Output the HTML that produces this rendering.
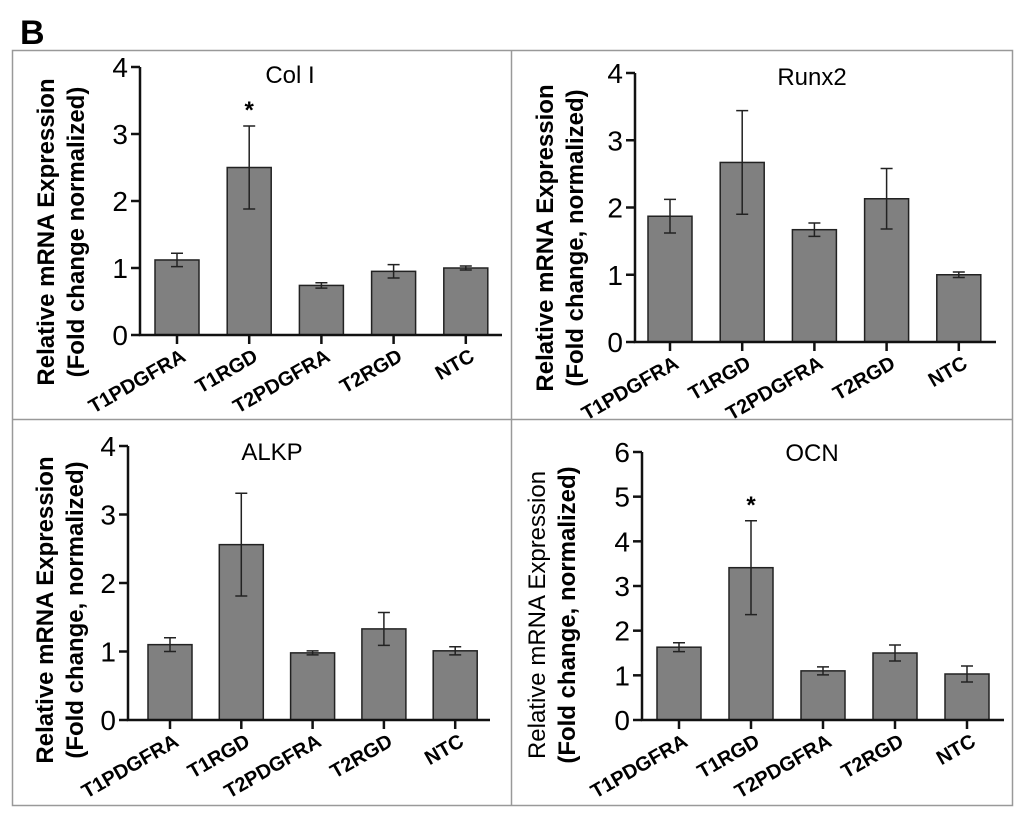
<!DOCTYPE html>
<html><head><meta charset="utf-8"><style>
body{margin:0;background:#fff}
svg{display:block;font-family:"Liberation Sans",Arial,sans-serif}
</style></head><body>
<svg id="fig" width="1024" height="817" viewBox="0 0 1024 817">
<text x="20" y="44" font-size="34" font-weight="bold">B</text>
<rect x="12.5" y="50.5" width="1000" height="755" fill="none" stroke="#999" stroke-width="1.5"/>
<line x1="511.5" y1="50" x2="511.5" y2="805" stroke="#999" stroke-width="1.5"/>
<line x1="12" y1="419.5" x2="1012" y2="419.5" stroke="#999" stroke-width="1.5"/>
</svg>
<script>
const categories=["T1PDGFRA","T1RGD","T2PDGFRA","T2RGD","NTC"];
const colIValues=[1.12,2.5,0.74,0.95,1.0];
const colIErr=[0.1,0.62,0.04,0.1,0.03];
const runx2Values=[1.87,2.67,1.67,2.13,1.0];
const runx2Err=[0.25,0.77,0.1,0.45,0.04];
const alkpValues=[1.1,2.56,0.98,1.33,1.01];
const alkpErr=[0.1,0.75,0.03,0.24,0.06];
const ocnValues=[1.63,3.41,1.1,1.5,1.03];
const ocnErr=[0.1,1.05,0.09,0.18,0.18];
const ticks4=[0,1,2,3,4];
const ticks6=[0,1,2,3,4,5,6];
const colIStars=[false,true,false,false,false];
const runx2Stars=[false,false,false,false,false];
const alkpStars=[false,false,false,false,false];
const ocnStars=[false,true,false,false,false];

const NS="http://www.w3.org/2000/svg";
const svg=document.getElementById('fig');
function mk(tag,attrs,parent,text){const e=document.createElementNS(NS,tag);for(const k in attrs)e.setAttribute(k,attrs[k]);if(text!==undefined)e.textContent=text;(parent||svg).appendChild(e);return e;}

function panel(cfg){
  const g=mk('g',{});
  
  
  const ymax=cfg.ticks[cfg.ticks.length-1];
  const y=v=>cfg.y0-(cfg.y0-cfg.yTop)*v/ymax;
  const x=i=>cfg.xFirst+i*cfg.step;
  cfg.values.forEach((v,i)=>{
    const b=mk('rect',{x:x(i)-22,y:y(v),width:44,height:cfg.y0-y(v),fill:'#808080',stroke:'#222','stroke-width':1.5},g);
    
    
    const e=cfg.err[i],cx=x(i);
    const eb=mk('path',{d:`M${cx},${y(v+e)}V${y(v-e)}M${cx-6},${y(v+e)}H${cx+6}M${cx-6},${y(v-e)}H${cx+6}`,stroke:'#222','stroke-width':1.5,fill:'none'},g);
    
    
    if(cfg.stars[i]){
      const s=mk('text',{x:cx,y:y(v+e)-8,'font-size':24,'font-weight':'bold','text-anchor':'middle'},g,'*');
      
      
    }
    const tk=mk('line',{x1:cx,x2:cx,y1:cfg.y0,y2:cfg.y0+9,stroke:'#111','stroke-width':2.5},g);
    
    
    const lb=mk('text',{transform:`translate(${cx+10},${cfg.y0+25}) rotate(-30)`,'font-size':20,'font-weight':'bold','text-anchor':'end'},g,categories[i]);
    
    
  });
  const ax=mk('path',{d:`M${cfg.ax},${cfg.yTop}V${cfg.y0}H${cfg.xEnd}`,stroke:'#111','stroke-width':2.5,fill:'none'},g);
  
  
  cfg.ticks.forEach(t=>{
    const l=mk('line',{x1:cfg.ax-9,x2:cfg.ax,y1:y(t),y2:y(t),stroke:'#111','stroke-width':2.5},g);
    
    
    const tl=mk('text',{x:cfg.ax-12,y:y(t)+10,'font-size':28,'text-anchor':'end'},g,String(t));
    
    
  });
  const tt=mk('text',{x:cfg.tx,y:cfg.ty,'font-size':24,'text-anchor':'middle'},g,cfg.title);
  
  
  const yl1=mk('text',{transform:`translate(${cfg.lx},${cfg.lmid}) rotate(-90)`,'font-size':24,'font-weight':cfg.l1bold?'bold':'normal','text-anchor':'middle'},g,'Relative mRNA Expression');
  
  
  const yl2=mk('text',{transform:`translate(${cfg.lx+30},${cfg.lmid}) rotate(-90)`,'font-size':24,'font-weight':'bold','text-anchor':'middle'},g,cfg.l2);
  
  
}
panel({name:'col-i',title:'Col I',values:colIValues,err:colIErr,stars:colIStars,ticks:ticks4,ax:140,yTop:67,y0:335,xFirst:177,step:72.2,xEnd:502,tx:290,ty:83,lx:54,lmid:232,l1bold:true,l2:'(Fold change normalized)'});
panel({name:'runx2',title:'Runx2',values:runx2Values,err:runx2Err,stars:runx2Stars,ticks:ticks4,ax:635,yTop:73,y0:342,xFirst:670,step:72.2,xEnd:996,tx:812,ty:85,lx:553,lmid:238,l1bold:true,l2:'(Fold change, normalized)'});
panel({name:'alkp',title:'ALKP',values:alkpValues,err:alkpErr,stars:alkpStars,ticks:ticks4,ax:128,yTop:446,y0:720,xFirst:170,step:71.3,xEnd:490,tx:272,ty:460,lx:53,lmid:610,l1bold:true,l2:'(Fold change, normalized)'});
panel({name:'ocn',title:'OCN',values:ocnValues,err:ocnErr,stars:ocnStars,ticks:ticks6,ax:642,yTop:452,y0:720,xFirst:679,step:72,xEnd:1004,tx:812,ty:461,lx:545,lmid:615,l1bold:false,l2:'(Fold change, normalized)'});
</script>
</body></html>
